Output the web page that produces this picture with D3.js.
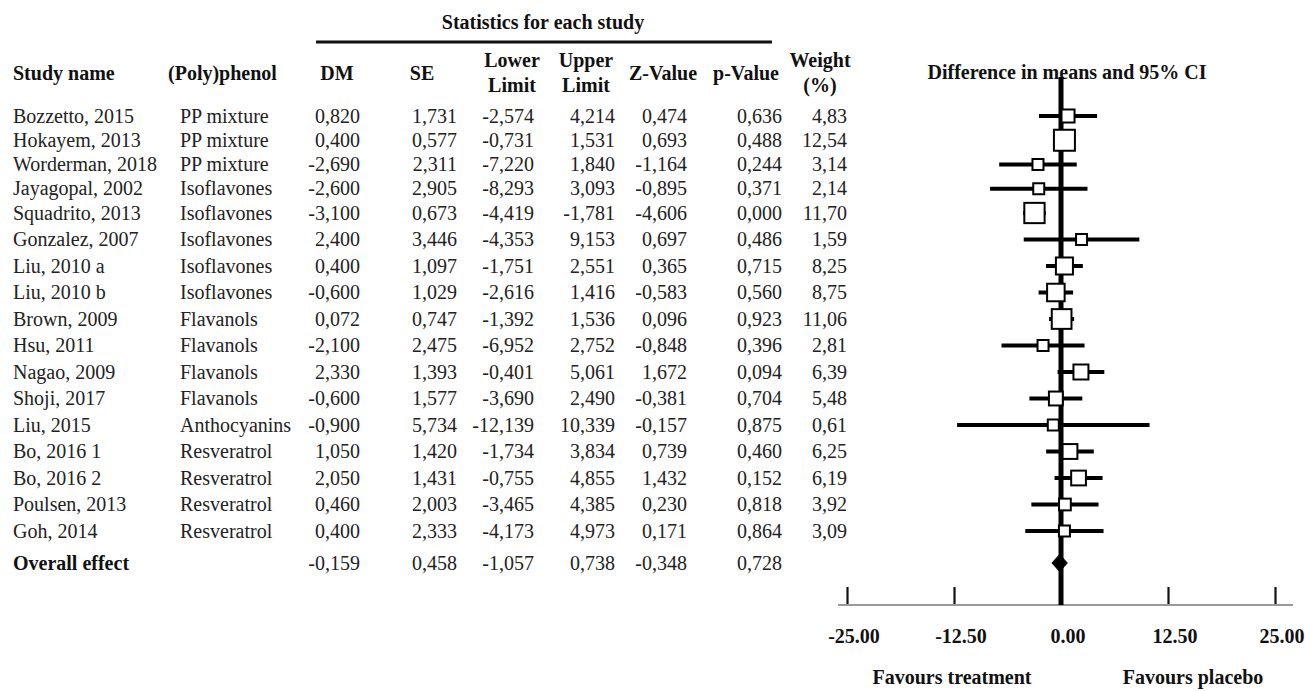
<!DOCTYPE html>
<html>
<head>
<meta charset="utf-8">
<script src="https://cdn.jsdelivr.net/npm/d3@7/dist/d3.min.js"></script>
<style>
  html, body { margin: 0; padding: 0; background: #fff; }
  svg { display: block; }
  text { font-family: "Liberation Serif", "Times New Roman", serif; }
</style>
</head>
<body>
<svg id="chart" width="1311" height="691"></svg>
<script>
// ---------- data ----------
const studies = ["Bozzetto, 2015","Hokayem, 2013","Worderman, 2018","Jayagopal, 2002","Squadrito, 2013",
  "Gonzalez, 2007","Liu, 2010 a","Liu, 2010 b","Brown, 2009","Hsu, 2011","Nagao, 2009","Shoji, 2017",
  "Liu, 2015","Bo, 2016 1","Bo, 2016 2","Poulsen, 2013","Goh, 2014"];
const polyphenols = ["PP mixture","PP mixture","PP mixture","Isoflavones","Isoflavones","Isoflavones",
  "Isoflavones","Isoflavones","Flavanols","Flavanols","Flavanols","Flavanols","Anthocyanins",
  "Resveratrol","Resveratrol","Resveratrol","Resveratrol"];
const dm     = [0.820, 0.400, -2.690, -2.600, -3.100, 2.400, 0.400, -0.600, 0.072, -2.100, 2.330, -0.600, -0.900, 1.050, 2.050, 0.460, 0.400];
const se     = [1.731, 0.577, 2.311, 2.905, 0.673, 3.446, 1.097, 1.029, 0.747, 2.475, 1.393, 1.577, 5.734, 1.420, 1.431, 2.003, 2.333];
const lower  = [-2.574, -0.731, -7.220, -8.293, -4.419, -4.353, -1.751, -2.616, -1.392, -6.952, -0.401, -3.690, -12.139, -1.734, -0.755, -3.465, -4.173];
const upper  = [4.214, 1.531, 1.840, 3.093, -1.781, 9.153, 2.551, 1.416, 1.536, 2.752, 5.061, 2.490, 10.339, 3.834, 4.855, 4.385, 4.973];
const zValue = [0.474, 0.693, -1.164, -0.895, -4.606, 0.697, 0.365, -0.583, 0.096, -0.848, 1.672, -0.381, -0.157, 0.739, 1.432, 0.230, 0.171];
const pValue = [0.636, 0.488, 0.244, 0.371, 0.000, 0.486, 0.715, 0.560, 0.923, 0.396, 0.094, 0.704, 0.875, 0.460, 0.152, 0.818, 0.864];
const weight = [4.83, 12.54, 3.14, 2.14, 11.70, 1.59, 8.25, 8.75, 11.06, 2.81, 6.39, 5.48, 0.61, 6.25, 6.19, 3.92, 3.09];

const overallLabel = "Overall effect";
const overall = { dm: -0.159, se: 0.458, lower: -1.057, upper: 0.738, z: -0.348, p: 0.728 };

const xTicks = [-25, -12.5, 0, 12.5, 25];
const favourLeft = "Favours treatment";
const favourRight = "Favours placebo";

// ---------- setup ----------
const svg = d3.select("#chart");
const locComma = d3.formatLocale({decimal: ",", thousands: ".", grouping: [3], currency: ["", ""], minus: "-"});
const locDot = d3.formatLocale({decimal: ".", thousands: ",", grouping: [3], currency: ["", ""], minus: "-"});
const f3 = locComma.format(".3f");
const f2 = locComma.format(".2f");
const fTick = locDot.format(".2f");

const N = studies.length;
// row positions (slightly tighter spacing at the top, as in the original)
const y = d3.scaleLinear().domain([0, 4, N - 1, N]).range([116, 213, 531, 563]);
const x = d3.scaleLinear().domain([-25, 25]).range([847, 1275]);
const boxSize = d3.scaleSqrt().domain([0, d3.max(weight)]).range([0, 21]);

const FS = 20;
const bodyColor = "#222";
const headColor = "#111";

// ---------- header ----------
svg.append("text").attr("x", 543).attr("y", 22).attr("dy", "0.33em")
  .attr("text-anchor", "middle").attr("font-size", FS).attr("font-weight", "bold")
  .attr("fill", headColor).text("Statistics for each study");
svg.append("line").attr("x1", 316).attr("x2", 772).attr("y1", 42).attr("y2", 42)
  .attr("stroke", "#111").attr("stroke-width", 3);

const headers = [
  {lines: ["Study name"], x: 13, anchor: "start"},
  {lines: ["(Poly)phenol"], x: 168, anchor: "start"},
  {lines: ["DM"], x: 337, anchor: "middle"},
  {lines: ["SE"], x: 422, anchor: "middle"},
  {lines: ["Lower", "Limit"], x: 512, anchor: "middle"},
  {lines: ["Upper", "Limit"], x: 586, anchor: "middle"},
  {lines: ["Z-Value"], x: 663, anchor: "middle"},
  {lines: ["p-Value"], x: 746, anchor: "middle"},
  {lines: ["Weight", "(%)"], x: 820, anchor: "middle"}
];
headers.forEach(h => {
  const ys = h.lines.length === 1 ? [73] : [60, 85];
  h.lines.forEach((l, i) => {
    svg.append("text").attr("x", h.x).attr("y", ys[i]).attr("dy", "0.33em")
      .attr("text-anchor", h.anchor).attr("font-size", FS).attr("font-weight", "bold")
      .attr("fill", headColor).text(l);
  });
});

svg.append("text").attr("x", 1067).attr("y", 72).attr("dy", "0.33em")
  .attr("text-anchor", "middle").attr("font-size", FS).attr("font-weight", "bold")
  .attr("fill", headColor).text("Difference in means and 95% CI");

// ---------- table body ----------
const cols = [
  {vals: studies, x: 13, anchor: "start", fmt: d => d},
  {vals: polyphenols, x: 180, anchor: "start", fmt: d => d},
  {vals: dm, x: 360, anchor: "end", fmt: f3},
  {vals: se, x: 457, anchor: "end", fmt: f3},
  {vals: lower, x: 534, anchor: "end", fmt: f3},
  {vals: upper, x: 615, anchor: "end", fmt: f3},
  {vals: zValue, x: 687, anchor: "end", fmt: f3},
  {vals: pValue, x: 782, anchor: "end", fmt: f3},
  {vals: weight, x: 847, anchor: "end", fmt: f2}
];
const body = svg.append("g").attr("font-size", FS).attr("fill", bodyColor);
cols.forEach(c => {
  body.selectAll(null).data(c.vals).join("text")
    .attr("x", c.x).attr("y", (d, i) => y(i)).attr("dy", "0.33em")
    .attr("text-anchor", c.anchor).text(c.fmt);
});

// overall row
svg.append("text").attr("x", 13).attr("y", y(N)).attr("dy", "0.33em")
  .attr("font-size", FS).attr("font-weight", "bold").attr("fill", headColor).text(overallLabel);
const ovVals = [overall.dm, overall.se, overall.lower, overall.upper, overall.z, overall.p];
ovVals.forEach((v, i) => {
  const c = cols[i + 2];
  body.append("text").attr("x", c.x).attr("y", y(N)).attr("dy", "0.33em")
    .attr("text-anchor", c.anchor).text(f3(v));
});

// ---------- forest plot ----------
const axisY = 605;
const plot = svg.append("g");

// axis baseline
plot.append("line").attr("x1", x(-25) - 9).attr("x2", x(25) + 18)
  .attr("y1", axisY).attr("y2", axisY).attr("stroke", "#777").attr("stroke-width", 1.5);

// ticks via d3 axis
const axisG = plot.append("g").attr("transform", `translate(0,${axisY - 1})`)
  .call(d3.axisTop(x).tickValues(xTicks).tickSize(17).tickFormat(""));
axisG.select(".domain").remove();
axisG.selectAll(".tick line").attr("stroke", "#111").attr("stroke-width", 2.2);

// tick labels
const labG = plot.append("g").attr("transform", `translate(6.5,${axisY + 31})`)
  .call(d3.axisBottom(x).tickValues(xTicks).tickSize(0).tickPadding(0).tickFormat(fTick));
labG.select(".domain").remove();
labG.selectAll("text").attr("font-family", "Liberation Serif, Times New Roman, serif")
  .attr("font-size", FS).attr("font-weight", "bold").attr("fill", headColor).attr("dy", "0.33em").attr("y", 0);

// zero line
plot.append("line").attr("x1", x(0)).attr("x2", x(0)).attr("y1", 77).attr("y2", axisY)
  .attr("stroke", "#000").attr("stroke-width", 5);

// CI lines
plot.selectAll(".ci").data(dm).join("line").attr("class", "ci")
  .attr("x1", (d, i) => x(lower[i])).attr("x2", (d, i) => x(upper[i]))
  .attr("y1", (d, i) => y(i)).attr("y2", (d, i) => y(i))
  .attr("stroke", "#000").attr("stroke-width", 4);

// boxes
plot.selectAll(".box").data(dm).join("rect").attr("class", "box")
  .each(function(d, i) {
    const s = Math.max(11, boxSize(weight[i]));
    d3.select(this).attr("x", x(d) - s / 2).attr("y", y(i) - s / 2)
      .attr("width", s).attr("height", s);
  })
  .attr("fill", "#fff").attr("stroke", "#000").attr("stroke-width", 2);

// overall diamond
const oy = y(N);
plot.append("path")
  .attr("d", `M${x(overall.lower)},${oy} L${x(overall.dm)},${oy - 8.5} L${x(overall.upper)},${oy} L${x(overall.dm)},${oy + 8.5} Z`)
  .attr("fill", "#000").attr("stroke", "#000").attr("stroke-width", 1);

// favours labels
svg.append("text").attr("x", 952).attr("y", 677).attr("dy", "0.33em")
  .attr("text-anchor", "middle").attr("font-size", FS).attr("font-weight", "bold")
  .attr("fill", headColor).text(favourLeft);
svg.append("text").attr("x", 1193).attr("y", 677).attr("dy", "0.33em")
  .attr("text-anchor", "middle").attr("font-size", FS).attr("font-weight", "bold")
  .attr("fill", headColor).text(favourRight);
</script>
</body>
</html>
